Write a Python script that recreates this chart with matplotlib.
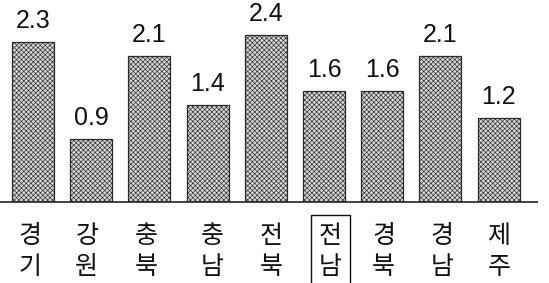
import matplotlib
matplotlib.use("Agg")
import matplotlib.pyplot as plt
from matplotlib.patches import Rectangle
from matplotlib.transforms import blended_transform_factory, offset_copy

top_labels = ["경", "강", "충", "충", "전", "전", "경", "경", "제"]
bottom_labels = ["기", "원", "북", "남", "북", "남", "북", "남", "주"]
values = [2.3, 0.9, 2.1, 1.4, 2.4, 1.6, 1.6, 2.1, 1.2]
value_text = ["2.3", "0.9", "2.1", "1.4", "2.4", "1.6", "1.6", "2.1", "1.2"]
highlight = 5

# small horizontal nudges of category labels (points), as in the scanned original
label_nudge = [-2.5, -3.2, -2.5, 3.6, 4.0, 4.7, 1.1, 1.1, 0.4]

plt.rcParams["hatch.color"] = "#a2a2a2"
plt.rcParams["hatch.linewidth"] = 0.45

W, H = 549, 283
fig = plt.figure(figsize=(W / 100, H / 100), dpi=100)
base_px = 202
ax = fig.add_axes([0, (H - base_px) / H, 1, base_px / H])

x = list(range(len(values)))
ax.bar(x, values, width=0.72, facecolor="#d6d6d6", edgecolor="#2a2a2a",
       linewidth=0.9, hatch="xxxxxxx", zorder=2)

spacing = 58.2
left_px = 33
ax.set_xlim(-left_px / spacing, (W - left_px) / spacing)
ax.set_ylim(0, base_px / 69.6)
ax.axis("off")

# baseline
ax.plot([ax.get_xlim()[0], (538 - left_px) / spacing], [0, 0], color="#222222",
        lw=1.2, solid_capstyle="butt", clip_on=False, zorder=3)

for xi, v, t in zip(x, values, value_text):
    ax.annotate(t, (xi, v), xytext=(0, 6.5), textcoords="offset points",
                ha="center", va="bottom", fontsize=18,
                family="Liberation Sans", color="#111111")

trans = blended_transform_factory(ax.transData, fig.transFigure)
kfam = ["Noto Sans CJK KR", "DejaVu Sans"]
for xi, t, b, dx in zip(x, top_labels, bottom_labels, label_nudge):
    tr = offset_copy(trans, fig=fig, x=dx, y=0, units="points")
    ax.text(xi, 1 - 236 / H, t, transform=tr, ha="center", va="center",
            fontsize=18, family=kfam, color="#111111")
    ax.text(xi, 1 - 267 / H, b, transform=tr, ha="center", va="center",
            fontsize=18, family=kfam, color="#111111")

# box around highlighted label
half_w = 19.5 / spacing
tr = offset_copy(trans, fig=fig, x=label_nudge[highlight], y=0, units="points")
rect = Rectangle((highlight - half_w, -0.02), 2 * half_w, (283 - 215) / H + 0.02,
                 transform=tr, fill=False, edgecolor="#111111", lw=1.0, clip_on=False)
ax.add_patch(rect)

fig.savefig("out.png", dpi=100)
